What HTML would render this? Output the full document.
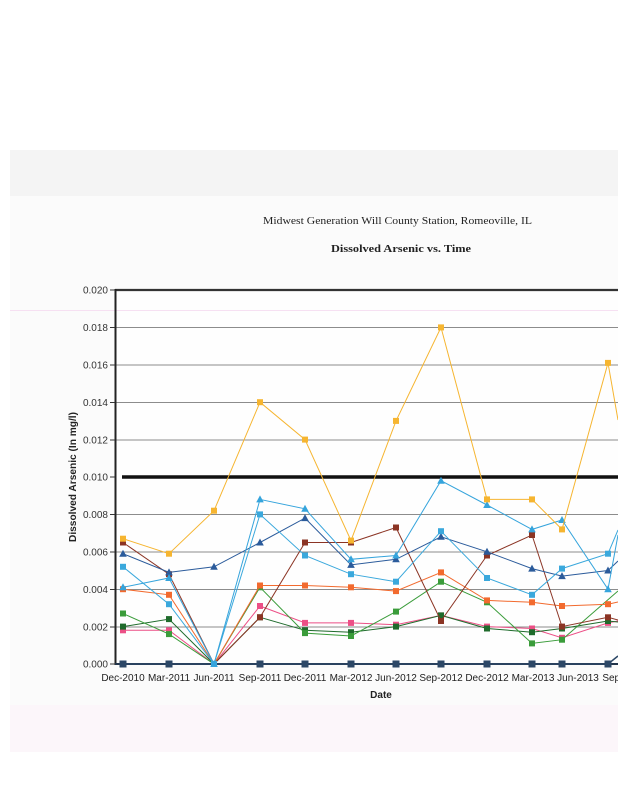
<!DOCTYPE html>
<html>
<head>
<meta charset="utf-8">
<style>
html,body{margin:0;padding:0;background:#fff;}
svg{display:block;}
text{font-family:"Liberation Sans",Arial,sans-serif;}
.ser{font-family:"Liberation Serif","Times New Roman",serif;}
</style>
</head>
<body>
<svg width="618" height="800" viewBox="0 0 618 800" xmlns="http://www.w3.org/2000/svg">
<defs>
<rect id="sq" x="-3" y="-3" width="6" height="6"/>
<path id="tri" d="M0,-4 L3.8,3 L-3.8,3 Z"/>
</defs>
<rect x="0" y="0" width="618" height="800" fill="#ffffff"/>
<!-- scanned page tint -->
<rect x="10" y="150" width="608" height="602" fill="#fbfbfb"/>
<rect x="10" y="150" width="608" height="46" fill="#f4f4f4"/>
<rect x="10" y="705" width="608" height="47" fill="#fcf6fa"/>
<rect x="116" y="291" width="502" height="373" fill="#fefefe"/>

<!-- titles -->
<text class="ser" x="397.5" y="224" font-size="11" text-anchor="middle" fill="#222" textLength="269" lengthAdjust="spacingAndGlyphs">Midwest Generation Will County Station, Romeoville, IL</text>
<text class="ser" x="401" y="252" font-size="11" font-weight="bold" text-anchor="middle" fill="#222" textLength="140" lengthAdjust="spacingAndGlyphs">Dissolved Arsenic vs. Time</text>

<!-- artifact pink line -->
<line x1="10" y1="310.5" x2="618" y2="310.5" stroke="#f6e0f2" stroke-width="1"/>

<!-- gridlines -->
<g stroke="#8c8c8c" stroke-width="1">
<line x1="116" y1="327.5" x2="618" y2="327.5"/>
<line x1="116" y1="365" x2="618" y2="365"/>
<line x1="116" y1="402.5" x2="618" y2="402.5"/>
<line x1="116" y1="440" x2="618" y2="440"/>
<line x1="116" y1="514.5" x2="618" y2="514.5"/>
<line x1="116" y1="552" x2="618" y2="552"/>
<line x1="116" y1="589.5" x2="618" y2="589.5"/>
<line x1="116" y1="627" x2="618" y2="627"/>
</g>
<!-- top border -->
<line x1="115" y1="290" x2="618" y2="290" stroke="#333" stroke-width="2.2"/>
<!-- y axis -->
<line x1="115.5" y1="289" x2="115.5" y2="665" stroke="#222" stroke-width="2"/>
<g stroke="#333" stroke-width="1">
<line x1="110" y1="290" x2="115" y2="290"/>
<line x1="110" y1="327.5" x2="115" y2="327.5"/>
<line x1="110" y1="365" x2="115" y2="365"/>
<line x1="110" y1="402.5" x2="115" y2="402.5"/>
<line x1="110" y1="440" x2="115" y2="440"/>
<line x1="110" y1="477" x2="115" y2="477"/>
<line x1="110" y1="514.5" x2="115" y2="514.5"/>
<line x1="110" y1="552" x2="115" y2="552"/>
<line x1="110" y1="589.5" x2="115" y2="589.5"/>
<line x1="110" y1="627" x2="115" y2="627"/>
<line x1="110" y1="664" x2="115" y2="664"/>
</g>
<!-- x axis -->
<line x1="115" y1="664" x2="618" y2="664" stroke="#22344a" stroke-width="2"/>

<!-- y labels -->
<g font-size="10" fill="#333" text-anchor="end">
<text x="108" y="293.5">0.020</text>
<text x="108" y="331">0.018</text>
<text x="108" y="368.5">0.016</text>
<text x="108" y="406">0.014</text>
<text x="108" y="443.5">0.012</text>
<text x="108" y="480.5">0.010</text>
<text x="108" y="518">0.008</text>
<text x="108" y="555.5">0.006</text>
<text x="108" y="593">0.004</text>
<text x="108" y="630.5">0.002</text>
<text x="108" y="667.5">0.000</text>
</g>
<text x="0" y="0" font-size="10" font-weight="bold" fill="#222" text-anchor="middle" transform="translate(76,477) rotate(-90)" textLength="130" lengthAdjust="spacingAndGlyphs">Dissolved Arsenic (In mg/l)</text>

<!-- x labels -->
<g font-size="10" fill="#222" text-anchor="middle">
<text x="123" y="681">Dec-2010</text>
<text x="169" y="681">Mar-2011</text>
<text x="214" y="681">Jun-2011</text>
<text x="260" y="681">Sep-2011</text>
<text x="305" y="681">Dec-2011</text>
<text x="351" y="681">Mar-2012</text>
<text x="396" y="681">Jun-2012</text>
<text x="441" y="681">Sep-2012</text>
<text x="487" y="681">Dec-2012</text>
<text x="533" y="681">Mar-2013</text>
<text x="578" y="681">Jun-2013</text>
<text x="624" y="681">Sep-2013</text>
</g>
<text x="381" y="698" font-size="10" font-weight="bold" fill="#222" text-anchor="middle">Date</text>

<!-- MCL line -->
<line x1="122" y1="477" x2="618" y2="477" stroke="#111" stroke-width="3.5"/>

<!-- navy zero series -->
<g stroke="#2c4766" fill="#2c4766">
<polyline fill="none" stroke-width="1.5" points="123,664 169,664 214,664 260,664 305,664 351,664 396,664 441,664 487,664 532,664 562,664 608,664 618,656"/>
<use href="#sq" x="123" y="664"/><use href="#sq" x="169" y="664"/><use href="#sq" x="260" y="664"/><use href="#sq" x="305" y="664"/><use href="#sq" x="351" y="664"/><use href="#sq" x="396" y="664"/><use href="#sq" x="441" y="664"/><use href="#sq" x="487" y="664"/><use href="#sq" x="532" y="664"/><use href="#sq" x="562" y="664"/><use href="#sq" x="608" y="664"/>
</g>

<!-- pink -->
<g fill="#ec4f86">
<polyline fill="none" stroke="#ec4f86" stroke-width="1" points="123,630.3 169,630.3 214,664 260,606 305,622.9 351,622.9 396,624.7 441,615.4 487,626.6 532,628.5 562,637.8 608,622.9 618,621"/>
<use href="#sq" x="123" y="630.3"/><use href="#sq" x="169" y="630.3"/><use href="#sq" x="214" y="664"/><use href="#sq" x="260" y="606"/><use href="#sq" x="305" y="622.9"/><use href="#sq" x="351" y="622.9"/><use href="#sq" x="396" y="624.7"/><use href="#sq" x="441" y="615.4"/><use href="#sq" x="487" y="626.6"/><use href="#sq" x="532" y="628.5"/><use href="#sq" x="562" y="637.8"/><use href="#sq" x="608" y="622.9"/>
</g>

<!-- dark green -->
<g fill="#1f6b2c">
<polyline fill="none" stroke="#1f6b2c" stroke-width="1" points="123,626.6 169,619.1 214,664 260,617.3 305,630.3 351,632.2 396,626.6 441,615.4 487,628.5 532,632.2 562,628.5 608,621 618,622"/>
<use href="#sq" x="123" y="626.6"/><use href="#sq" x="169" y="619.1"/><use href="#sq" x="214" y="664"/><use href="#sq" x="260" y="617.3"/><use href="#sq" x="305" y="630.3"/><use href="#sq" x="351" y="632.2"/><use href="#sq" x="396" y="626.6"/><use href="#sq" x="441" y="615.4"/><use href="#sq" x="487" y="628.5"/><use href="#sq" x="532" y="632.2"/><use href="#sq" x="562" y="628.5"/><use href="#sq" x="608" y="621"/>
</g>

<!-- green -->
<g fill="#3a9c3a">
<polyline fill="none" stroke="#3a9c3a" stroke-width="1" points="123,613.5 169,634.1 214,664 260,587.3 305,633.1 351,636 396,611.6 441,581.7 487,602.3 532,643.4 562,639.7 618,591"/>
<use href="#sq" x="123" y="613.5"/><use href="#sq" x="169" y="634.1"/><use href="#sq" x="214" y="664"/><use href="#sq" x="260" y="587.3"/><use href="#sq" x="305" y="633.1"/><use href="#sq" x="351" y="636"/><use href="#sq" x="396" y="611.6"/><use href="#sq" x="441" y="581.7"/><use href="#sq" x="487" y="602.3"/><use href="#sq" x="532" y="643.4"/><use href="#sq" x="562" y="639.7"/>
</g>

<!-- orange -->
<g fill="#f26a2e">
<polyline fill="none" stroke="#f26a2e" stroke-width="1" points="123,589.2 169,594.8 214,664 260,585.5 305,585.5 351,587.3 396,591.1 441,572.4 487,600.4 532,602.3 562,606 608,604.2 618,602"/>
<use href="#sq" x="123" y="589.2"/><use href="#sq" x="169" y="594.8"/><use href="#sq" x="214" y="664"/><use href="#sq" x="260" y="585.5"/><use href="#sq" x="305" y="585.5"/><use href="#sq" x="351" y="587.3"/><use href="#sq" x="396" y="591.1"/><use href="#sq" x="441" y="572.4"/><use href="#sq" x="487" y="600.4"/><use href="#sq" x="532" y="602.3"/><use href="#sq" x="562" y="606"/><use href="#sq" x="608" y="604.2"/>
</g>

<!-- brown -->
<g fill="#8b3424">
<polyline fill="none" stroke="#8b3424" stroke-width="1" points="123,542.5 169,574.2 214,664 260,617.3 305,542.5 351,542.5 396,527.5 441,621 487,555.5 532,535 562,626.6 608,617.3 618,620"/>
<use href="#sq" x="123" y="542.5"/><use href="#sq" x="169" y="574.2"/><use href="#sq" x="214" y="664"/><use href="#sq" x="260" y="617.3"/><use href="#sq" x="305" y="542.5"/><use href="#sq" x="351" y="542.5"/><use href="#sq" x="396" y="527.5"/><use href="#sq" x="441" y="621"/><use href="#sq" x="487" y="555.5"/><use href="#sq" x="532" y="535"/><use href="#sq" x="562" y="626.6"/><use href="#sq" x="608" y="617.3"/>
</g>

<!-- dark blue triangles -->
<g fill="#2b5b9b">
<polyline fill="none" stroke="#2b5b9b" stroke-width="1" points="123,553.7 169,572.4 214,566.8 260,542.5 305,518.1 351,564.9 396,559.3 441,536.8 487,551.8 532,568.6 562,576.1 608,570.5 618,561"/>
<use href="#tri" x="123" y="553.7"/><use href="#tri" x="169" y="572.4"/><use href="#tri" x="214" y="566.8"/><use href="#tri" x="260" y="542.5"/><use href="#tri" x="305" y="518.1"/><use href="#tri" x="351" y="564.9"/><use href="#tri" x="396" y="559.3"/><use href="#tri" x="441" y="536.8"/><use href="#tri" x="487" y="551.8"/><use href="#tri" x="532" y="568.6"/><use href="#tri" x="562" y="576.1"/><use href="#tri" x="608" y="570.5"/>
</g>

<!-- light blue squares -->
<g fill="#3aa8dc">
<polyline fill="none" stroke="#3aa8dc" stroke-width="1" points="123,566.8 169,604.2 214,664 260,514.4 305,555.5 351,574.2 396,581.7 441,531.2 487,578 532,594.8 562,568.6 608,553.7 618,530"/>
<use href="#sq" x="123" y="566.8"/><use href="#sq" x="169" y="604.2"/><use href="#sq" x="214" y="664"/><use href="#sq" x="260" y="514.4"/><use href="#sq" x="305" y="555.5"/><use href="#sq" x="351" y="574.2"/><use href="#sq" x="396" y="581.7"/><use href="#sq" x="441" y="531.2"/><use href="#sq" x="487" y="578"/><use href="#sq" x="532" y="594.8"/><use href="#sq" x="562" y="568.6"/><use href="#sq" x="608" y="553.7"/>
</g>

<!-- light blue triangles -->
<g fill="#35a4dc">
<polyline fill="none" stroke="#35a4dc" stroke-width="1" points="123,587.3 169,578 214,664 260,499.4 305,508.8 351,559.3 396,555.5 441,480.7 487,505 532,529.4 562,520 608,589.2 618,535"/>
<use href="#tri" x="123" y="587.3"/><use href="#tri" x="169" y="578"/><use href="#tri" x="214" y="664"/><use href="#tri" x="260" y="499.4"/><use href="#tri" x="305" y="508.8"/><use href="#tri" x="351" y="559.3"/><use href="#tri" x="396" y="555.5"/><use href="#tri" x="441" y="480.7"/><use href="#tri" x="487" y="505"/><use href="#tri" x="532" y="529.4"/><use href="#tri" x="562" y="520"/><use href="#tri" x="608" y="589.2"/>
</g>

<!-- yellow-orange -->
<g fill="#f6b530">
<polyline fill="none" stroke="#f6b530" stroke-width="1" points="123,538.7 169,553.7 214,510.7 260,402.2 305,439.6 351,540.6 396,420.9 441,327.4 487,499.4 532,499.4 562,529.4 608,362.9 618,420"/>
<use href="#sq" x="123" y="538.7"/><use href="#sq" x="169" y="553.7"/><use href="#sq" x="214" y="510.7"/><use href="#sq" x="260" y="402.2"/><use href="#sq" x="305" y="439.6"/><use href="#sq" x="351" y="540.6"/><use href="#sq" x="396" y="420.9"/><use href="#sq" x="441" y="327.4"/><use href="#sq" x="487" y="499.4"/><use href="#sq" x="532" y="499.4"/><use href="#sq" x="562" y="529.4"/><use href="#sq" x="608" y="362.9"/>
</g>
</svg>
</body>
</html>
